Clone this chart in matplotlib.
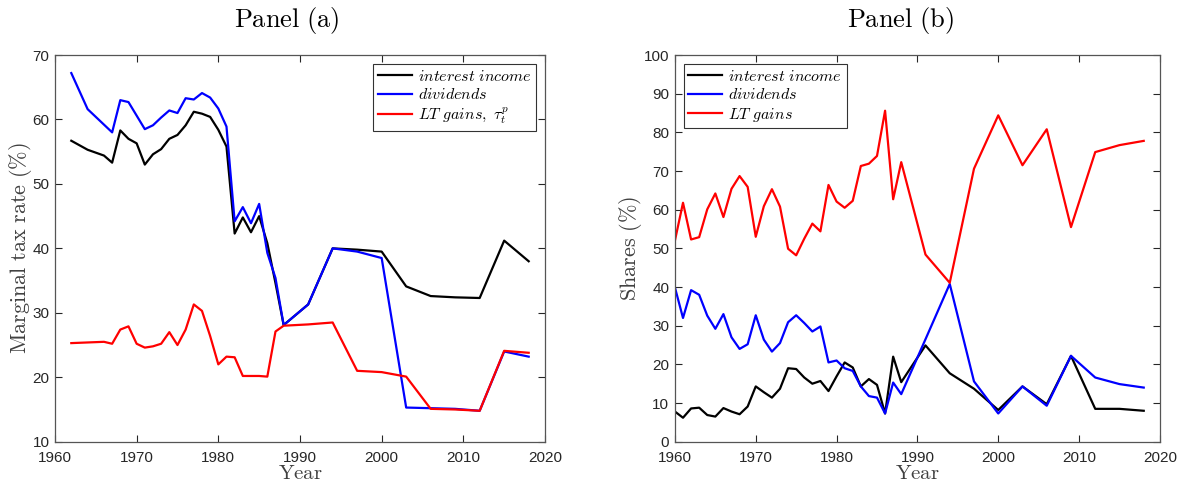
import numpy as np
import matplotlib
matplotlib.use("Agg")
import matplotlib.pyplot as plt

plt.rcParams['mathtext.fontset'] = 'cm'
plt.rcParams['font.family'] = ['Liberation Sans', 'DejaVu Sans']

# Panel (a): marginal tax rates
years_a = [1962, 1964, 1966, 1967, 1968, 1969, 1970, 1971, 1972, 1973, 1974,
           1975, 1976, 1977, 1978, 1979, 1980, 1981, 1982, 1983, 1984, 1985,
           1986, 1987, 1988, 1991, 1994, 1997, 2000, 2003, 2006, 2009, 2012,
           2015, 2018]
tax_interest = [56.7, 55.3, 54.4, 53.3, 58.3, 57.0, 56.3, 53.0, 54.6, 55.4, 57.0,
                57.6, 59.1, 61.2, 60.9, 60.4, 58.4, 55.8, 42.3, 44.8, 42.5, 45.0,
                40.8, 34.6, 28.1, 31.3, 40.0, 39.8, 39.5, 34.1, 32.6, 32.4, 32.3,
                41.2, 38.0]
tax_dividends = [67.2, 61.6, 59.2, 58.0, 63.0, 62.7, 60.6, 58.5, 59.1, 60.3, 61.4,
                 61.0, 63.3, 63.1, 64.1, 63.4, 61.7, 58.9, 44.2, 46.4, 43.9, 46.9,
                 39.3, 35.4, 28.1, 31.3, 40.0, 39.5, 38.5, 15.3, 15.2, 15.1, 14.8,
                 24.0, 23.2]
tax_ltgains = [25.3, 25.4, 25.5, 25.2, 27.4, 27.9, 25.2, 24.6, 24.8, 25.2, 27.0,
               25.0, 27.4, 31.3, 30.3, 26.4, 22.0, 23.2, 23.1, 20.2, 20.2, 20.2,
               20.1, 27.1, 28.0, 28.2, 28.5, 21.0, 20.8, 20.1, 15.1, 15.0, 14.8,
               24.1, 23.8]

# Panel (b): income shares
years_b = list(range(1960, 1989)) + [1991, 1994, 1997, 2000, 2003, 2006, 2009,
                                     2012, 2015, 2018]
share_interest = [7.8, 6.2, 8.6, 8.8, 6.9, 6.5, 8.7, 7.8, 7.1, 9.1, 14.3, 12.8,
                  11.4, 13.7, 19.0, 18.8, 16.6, 15.0, 15.7, 13.1, 16.9, 20.5,
                  19.2, 14.3, 16.2, 14.7, 7.3, 22.0, 15.4,
                  24.9, 17.7, 13.7, 8.2, 14.3, 9.7, 22.2, 8.5, 8.5, 8.0]
share_dividends = [39.9, 32.0, 39.2, 38.0, 32.6, 29.2, 33.0, 27.0, 24.0, 25.2,
                   32.7, 26.4, 23.3, 25.5, 30.9, 32.7, 30.7, 28.5, 29.8, 20.5,
                   21.0, 19.0, 18.3, 14.3, 11.8, 11.4, 7.3, 15.3, 12.3,
                   26.5, 40.8, 15.6, 7.3, 14.3, 9.3, 22.2, 16.6, 14.9, 14.0]
share_ltgains = [52.0, 61.8, 52.3, 52.9, 60.1, 64.2, 58.1, 65.4, 68.7, 65.9,
                 53.0, 60.9, 65.3, 60.8, 49.9, 48.2, 52.5, 56.4, 54.4, 66.4,
                 62.1, 60.5, 62.3, 71.3, 71.9, 73.9, 85.6, 62.7, 72.3,
                 48.4, 41.1, 70.6, 84.4, 71.5, 80.8, 55.5, 74.9, 76.7, 77.8]

axis_col = '#262626'
lw = 1.6

fig = plt.figure(figsize=(11.82, 4.87), dpi=100)
ax1 = fig.add_axes([0.0465, 0.0930, 0.4146, 0.7940])
ax2 = fig.add_axes([0.571, 0.0930, 0.4103, 0.7940])


def style(ax):
    ax.set_xlim(1960, 2020)
    ax.set_xticks(range(1960, 2021, 10))
    ax.tick_params(direction='in', top=True, right=True, length=5,
                   width=0.8, color=axis_col, labelcolor=axis_col,
                   labelsize=11, pad=4)
    ax.tick_params(axis='x', pad=7)
    for s in ax.spines.values():
        s.set_color('#555555')
        s.set_linewidth(0.9)
    ax.set_xlabel(r'$\mathrm{Year}$', fontsize=15, color='#404040', labelpad=-1)


def add_legend(ax, loc):
    leg = ax.legend(loc=loc, fontsize=11.5, frameon=True, fancybox=False,
                    edgecolor='black', handlelength=2.1, handletextpad=0.4,
                    borderpad=0.3, labelspacing=0.22, borderaxespad=0.55)
    leg.get_frame().set_linewidth(0.8)


ax1.plot(years_a, tax_interest, color='black', lw=lw, label=r'$interest\ income$')
ax1.plot(years_a, tax_dividends, color='#0000ff', lw=lw, label=r'$dividends$')
ax1.plot(years_a, tax_ltgains, color='#ff0000', lw=lw, label=r'$LT\ gains,\ \tau_t^p$')
ax1.set_ylim(10, 70)
ax1.set_yticks(range(10, 71, 10))
style(ax1)
ax1.set_ylabel(r'$\mathrm{Marginal\ tax\ rate\ (\%)}$', fontsize=16,
               color='#404040', labelpad=-1)
ax1.set_title(r'$\mathrm{Panel\ (a)}$', fontsize=19, pad=20, x=0.473)
add_legend(ax1, 'upper right')

ax2.plot(years_b, share_interest, color='black', lw=lw, label=r'$interest\ income$')
ax2.plot(years_b, share_dividends, color='#0000ff', lw=lw, label=r'$dividends$')
ax2.plot(years_b, share_ltgains, color='#ff0000', lw=lw, label=r'$LT\ gains$')
ax2.set_ylim(0, 100)
ax2.set_yticks(range(0, 101, 10))
style(ax2)
ax2.set_ylabel(r'$\mathrm{Shares\ (\%)}$', fontsize=16, color='#404040', labelpad=0)
ax2.set_title(r'$\mathrm{Panel\ (b)}$', fontsize=19, pad=20, x=0.465)
add_legend(ax2, 'upper left')

fig.savefig('out.png', dpi=100)
